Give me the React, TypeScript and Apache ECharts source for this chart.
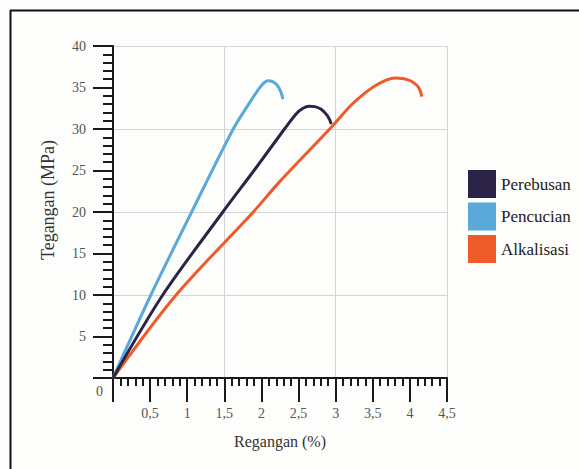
import React, { useEffect, useRef } from "react";
import * as echarts from "echarts";

const seriesNames = ["Perebusan", "Pencucian", "Alkalisasi"];
const seriesColors = ["#2c2446", "#5aa9d8", "#ef5a2b"];

const perebusan: [number, number][] = [
  [0, 0], [0.67, 10], [1.48, 20], [1.9, 25], [2.31, 30], [2.47, 31.85],
  [2.56, 32.5], [2.64, 32.75], [2.72, 32.7], [2.8, 32.4], [2.88, 31.7],
  [2.92, 31.1], [2.94, 30.6],
];
const pencucian: [number, number][] = [
  [0, 0], [0.51, 10], [1.06, 20], [1.62, 30], [1.85, 33.3], [1.97, 34.9],
  [2.04, 35.6], [2.09, 35.8], [2.15, 35.7], [2.21, 35.3], [2.26, 34.5],
  [2.29, 33.6],
];
const alkalisasi: [number, number][] = [
  [0, 0], [0.85, 10], [1.89, 20], [2.24, 23.6], [2.96, 30.4], [3.2, 32.8],
  [3.41, 34.45], [3.55, 35.3], [3.68, 35.9], [3.8, 36.15], [3.92, 36.05],
  [4.02, 35.75], [4.1, 35.2], [4.14, 34.6], [4.16, 33.9],
];
const seriesData = [perebusan, pencucian, alkalisasi];

const xTitle = "Regangan (%)";
const yTitle = "Tegangan (MPa)";
const originLabel = "0";

const FONT = "Liberation Serif";

export default function App() {
  const ref = useRef<HTMLDivElement>(null);
  useEffect(() => {
    if (!ref.current) return;
    const chart = echarts.init(ref.current, undefined, { renderer: "svg" });
    const fmt = (v: number) => (v === 0 ? "" : String(v).replace(".", ","));
    chart.setOption({
      animation: false,
      backgroundColor: "#fdfdfb",
      textStyle: { fontFamily: FONT },
      grid: { left: 113, right: 132, top: 46, bottom: 91, containLabel: false },
      legend: {
        orient: "vertical",
        left: 463,
        top: 165,
        itemWidth: 28,
        itemHeight: 28,
        itemGap: 4.5,
        icon: "rect",
        textStyle: { fontFamily: FONT, fontSize: 17, color: "#222", padding: [0, 0, 0, 0] },
        data: seriesNames,
      },
      xAxis: [
        {
          type: "value",
          min: 0,
          max: 4.5,
          interval: 0.5,
          name: xTitle,
          nameLocation: "middle",
          nameGap: 55,
          nameTextStyle: { fontFamily: FONT, fontSize: 16, color: "#333" },
          axisLine: { show: true, onZero: false, lineStyle: { color: "#1a1a1a", width: 2 } },
          axisTick: { show: true, length: 24, lineStyle: { color: "#1a1a1a", width: 2 } },
          minorTick: { show: true, splitNumber: 5, length: 8, lineStyle: { color: "#1a1a1a", width: 2 } },
          axisLabel: { formatter: fmt, margin: 28, fontSize: 14, color: "#555", fontFamily: FONT },
          splitLine: { show: false },
        },
        {
          type: "value",
          min: 0,
          max: 4.5,
          interval: 1.5,
          position: "top",
          axisLine: { show: false },
          axisTick: { show: false },
          axisLabel: { show: false },
          splitLine: { show: true, lineStyle: { color: "#d4d4d4", width: 1 } },
        },
      ],
      yAxis: [
        {
          type: "value",
          min: 0,
          max: 40,
          interval: 5,
          name: yTitle,
          nameLocation: "middle",
          nameGap: 56,
          nameTextStyle: { fontFamily: FONT, fontSize: 18, color: "#333", padding: [0, 0, 0, 24] },
          axisLine: { show: true, onZero: false, lineStyle: { color: "#1a1a1a", width: 2 } },
          axisTick: { show: true, length: 20, lineStyle: { color: "#1a1a1a", width: 2 } },
          minorTick: { show: true, splitNumber: 5, length: 10, lineStyle: { color: "#1a1a1a", width: 2 } },
          axisLabel: { formatter: fmt, margin: 27, fontSize: 14, color: "#555", fontFamily: FONT },
          splitLine: { show: false },
        },
        {
          type: "value",
          min: 0,
          max: 40,
          interval: 10,
          position: "right",
          axisLine: { show: false },
          axisTick: { show: false },
          axisLabel: { show: false },
          splitLine: { show: true, lineStyle: { color: "#d4d4d4", width: 1 } },
        },
      ],
      series: seriesNames.map((name, i) => ({
        name,
        type: "line",
        xAxisIndex: 0,
        yAxisIndex: 0,
        data: seriesData[i],
        smooth: 0.3,
        showSymbol: false,
        symbol: "none",
        lineStyle: { color: seriesColors[i], width: 3 },
        itemStyle: { color: seriesColors[i] },
        z: 3 + (2 - i),
      })),
      graphic: [
        {
          type: "text",
          left: 96,
          top: 384,
          style: { text: originLabel, fontFamily: FONT, fontSize: 14, fill: "#555" },
        },
        {
          type: "line",
          shape: { x1: 10, y1: 10.5, x2: 579, y2: 10.5 },
          style: { stroke: "#111", lineWidth: 2 },
        },
        {
          type: "line",
          shape: { x1: 10.5, y1: 10, x2: 10.5, y2: 469 },
          style: { stroke: "#111", lineWidth: 2 },
        },
      ],
    });
    return () => chart.dispose();
  }, []);
  return (
    <div
      ref={ref}
      style={{ position: "absolute", left: 0, top: 0, width: 579, height: 469 }}
    />
  );
}
